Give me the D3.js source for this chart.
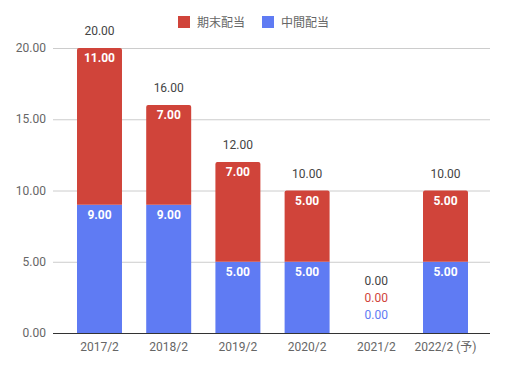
<!DOCTYPE html>
<html>
<head>
<meta charset="utf-8">
<script src="https://cdn.jsdelivr.net/npm/d3@7"></script>
<style>
  body { margin: 0; background: #fff; }
  svg text { font-family: Roboto, "Noto Sans CJK JP", sans-serif; }
</style>
</head>
<body>
<div id="chart"></div>
<script>
// data
const categories = ["2017/2", "2018/2", "2019/2", "2020/2", "2021/2", "2022/2 (予)"];
const interim = [9, 9, 5, 5, 0, 5];      // 中間配当
const yearEnd = [11, 7, 7, 5, 0, 5];     // 期末配当
const yTicks = [0, 5, 10, 15, 20];
const seriesNames = ["期末配当", "中間配当"];

const width = 509, height = 369;
const margin = {top: 48, right: 19, bottom: 36, left: 53};
const red = "#d0443a", blue = "#5f7bf3";

const svg = d3.select("#chart").append("svg")
  .attr("width", width).attr("height", height);

const x = d3.scaleBand()
  .domain(categories)
  .range([margin.left + 1, width - margin.right + 1])
  .paddingInner(0.35)
  .paddingOuter(0.3325);

const y = d3.scaleLinear()
  .domain([0, 20])
  .range([height - margin.bottom, margin.top]);

// gridlines
svg.append("g").selectAll("line")
  .data(yTicks)
  .enter().append("line")
    .attr("x1", margin.left).attr("x2", width - margin.right)
    .attr("y1", d => y(d) + 0.5).attr("y2", d => y(d) + 0.5)
    .attr("stroke", "#ccc").attr("stroke-width", 1);

// y labels
svg.append("g").selectAll("text")
  .data(yTicks)
  .enter().append("text")
    .attr("x", margin.left - 7)
    .attr("y", d => y(d) + 4)
    .attr("text-anchor", "end")
    .attr("font-size", 12)
    .attr("fill", "#666")
    .text(d => d.toFixed(2));

const rows = categories.map((c, i) => ({cat: c, a: interim[i], b: yearEnd[i]}));

const bw = x.bandwidth();
function topRounded(x0, yTop, w, h, r) {
  if (h <= 0) return "";
  r = Math.min(r, h);
  return `M${x0},${yTop + h}V${yTop + r}Q${x0},${yTop} ${x0 + r},${yTop}` +
    `H${x0 + w - r}Q${x0 + w},${yTop} ${x0 + w},${yTop + r}V${yTop + h}Z`;
}

// interim (bottom) bars
svg.append("g").selectAll("rect")
  .data(rows.filter(d => d.a > 0))
  .enter().append("rect")
    .attr("x", d => x(d.cat))
    .attr("y", d => y(d.a))
    .attr("width", bw)
    .attr("height", d => y(0) - y(d.a))
    .attr("fill", blue);

// year-end (top) bars, rounded top corners
svg.append("g").selectAll("path")
  .data(rows.filter(d => d.b > 0))
  .enter().append("path")
    .attr("d", d => topRounded(x(d.cat), y(d.a + d.b), bw, y(d.a) - y(d.a + d.b), 2))
    .attr("fill", red);

// baseline
svg.append("line")
  .attr("x1", margin.left).attr("x2", width - margin.right)
  .attr("y1", y(0) + 0.5).attr("y2", y(0) + 0.5)
  .attr("stroke", "#333").attr("stroke-width", 1);

// x labels
svg.append("g").selectAll("text")
  .data(categories)
  .enter().append("text")
    .attr("x", d => x(d) + bw / 2)
    .attr("y", y(0) + 18)
    .attr("text-anchor", "middle")
    .attr("font-size", 12)
    .attr("fill", "#666")
    .text(d => d);

const fmt = v => v.toFixed(2);

// inside labels
const inner = svg.append("g").attr("font-size", 12).attr("font-weight", "bold")
  .attr("fill", "#fff").attr("text-anchor", "middle");
rows.filter(d => d.a > 0).forEach(d => {
  inner.append("text").attr("x", x(d.cat) + bw / 2).attr("y", y(d.a) + 14).text(fmt(d.a));
});
rows.filter(d => d.b > 0).forEach(d => {
  inner.append("text").attr("x", x(d.cat) + bw / 2).attr("y", y(d.a + d.b) + 14).text(fmt(d.b));
});

// totals (and zero-value labels stacked above baseline)
const tot = svg.append("g").attr("font-size", 12).attr("text-anchor", "middle");
rows.forEach(d => {
  const cx = x(d.cat) + bw / 2;
  const t = d.a + d.b;
  if (t > 0) {
    tot.append("text").attr("x", cx).attr("y", y(t) - 13).attr("fill", "#444").text(fmt(t));
  } else {
    tot.append("text").attr("x", cx).attr("y", y(0) - 48).attr("fill", "#444").text(fmt(t));
    tot.append("text").attr("x", cx).attr("y", y(0) - 31).attr("fill", red).text(fmt(d.b));
    tot.append("text").attr("x", cx).attr("y", y(0) - 14).attr("fill", blue).text(fmt(d.a));
  }
});

// legend
const legend = svg.append("g").attr("font-size", 12);
const legendItems = [{name: seriesNames[0], color: red, x: 178}, {name: seriesNames[1], color: blue, x: 262}];
legendItems.forEach(it => {
  legend.append("rect").attr("x", it.x).attr("y", 16).attr("width", 12).attr("height", 12).attr("fill", it.color);
  legend.append("text").attr("x", it.x + 19).attr("y", 27).attr("fill", "#666").text(it.name);
});
</script>
</body>
</html>
